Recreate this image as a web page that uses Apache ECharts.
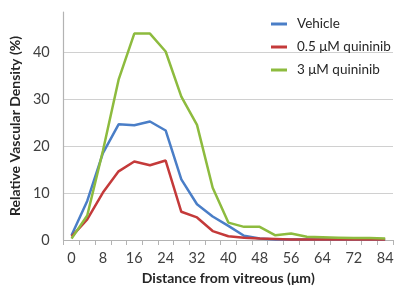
<!DOCTYPE html>
<html>
<head>
<meta charset="utf-8">
<script src="https://cdn.jsdelivr.net/npm/echarts@6/dist/echarts.min.js"></script>
<style>
  html, body { margin: 0; padding: 0; background: #fff; }
  #chart { width: 399px; height: 290px; }
</style>
</head>
<body>
<div id="chart"></div>
<script>
// distance from vitreous (um); label shown every second category
const distances = ['0', '4', '8', '12', '16', '20', '24', '28', '32', '36', '40', '44', '48', '52', '56', '60', '64', '68', '72', '78', '84'];

const vehicle = [1.0, 8.3, 18.5, 24.6, 24.4, 25.2, 23.3, 12.9, 7.6, 5.0, 3.0, 0.9, 0.3, 0.1, 0.1, 0.1, 0.1, 0.1, 0.1, 0.1, 0.1];
const quininib05 = [0.7, 4.4, 10.1, 14.6, 16.7, 15.9, 16.9, 6.0, 4.8, 1.9, 0.8, 0.5, 0.3, 0.2, 0.1, 0.1, 0.1, 0.1, 0.1, 0.1, 0.1];
const quininib3 = [0.3, 5.2, 19.0, 34.1, 43.9, 43.9, 40.1, 30.5, 24.5, 11.1, 3.7, 2.8, 2.8, 1.0, 1.4, 0.7, 0.6, 0.5, 0.4, 0.4, 0.3];

const seriesNames = ['Vehicle', '0.5 μM quininib', '3 μM quininib'];
const seriesColors = ['#4a7ec7', '#c43a3a', '#8dbb3e'];

const font = 'Lato, "Open Sans", sans-serif';

const chart = echarts.init(document.getElementById('chart'));

const mkLine = (name, data, color) => ({
  name,
  type: 'line',
  data,
  showSymbol: false,
  symbol: 'none',
  smooth: false,
  animation: false,
  lineStyle: { width: 2.5, color },
  itemStyle: { color },
});

chart.setOption({
  animation: false,
  grid: { left: 62, right: 6, top: 12, bottom: 49 },
  legend: {
    orient: 'vertical',
    left: 266,
    top: 11,
    itemWidth: 16,
    itemHeight: 3,
    itemGap: 7,
    icon: 'rect',
    data: seriesNames,
    textStyle: { fontFamily: font, fontSize: 13.5, color: '#262626', lineHeight: 16, padding: [0, 0, 0, 5] },
  },
  xAxis: {
    type: 'category',
    data: distances,
    boundaryGap: true,
    name: 'Distance from vitreous (μm)',
    nameLocation: 'middle',
    nameGap: 31,
    nameTextStyle: { fontFamily: font, fontSize: 14, fontWeight: 'bold', color: '#262626' },
    axisLine: { lineStyle: { color: '#b3b3b3', width: 1.2 } },
    axisTick: { show: true, interval: 0, length: 5, lineStyle: { color: '#b3b3b3' } },
    axisLabel: { interval: 1, margin: 11, fontFamily: font, fontSize: 14.5, color: '#404040' },
    splitLine: { show: false },
  },
  yAxis: {
    type: 'value',
    min: 0,
    max: 48.5,
    interval: 10,
    name: 'Relative Vascular Density (%)',
    nameLocation: 'middle',
    nameGap: 36,
    nameTextStyle: { fontFamily: font, fontSize: 14, fontWeight: 'bold', color: '#262626' },
    axisLine: { show: true, lineStyle: { color: '#b3b3b3', width: 1.2 } },
    axisTick: { show: false },
    axisLabel: { showMaxLabel: false, margin: 14, fontFamily: font, fontSize: 14.5, color: '#404040' },
    splitLine: { show: true, showMinLine: false, showMaxLine: false, lineStyle: { color: '#d0d0d0', width: 1.2 } },
  },
  series: [
    mkLine(seriesNames[0], vehicle, seriesColors[0]),
    mkLine(seriesNames[1], quininib05, seriesColors[1]),
    mkLine(seriesNames[2], quininib3, seriesColors[2]),
  ],
});
</script>
</body>
</html>
